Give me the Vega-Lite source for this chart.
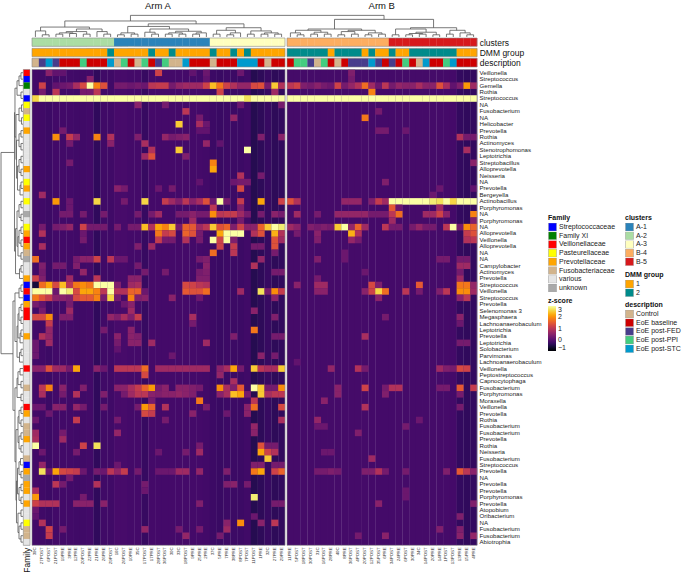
{"$schema":"https://vega.github.io/schema/vega-lite/v6.json","width":685,"height":572,"autosize":{"type":"fit","contains":"padding"},"padding":0,"background":"white","config":{"axis":{"disable":true},"view":{"stroke":null},"text":{"font":"Liberation Sans"},"legend":{"titleFont":"Liberation Sans","labelFont":"Liberation Sans","titleFontSize":7,"labelFontSize":7,"titleFontWeight":"bold","titleColor":"#111","labelColor":"#222","titlePadding":2,"padding":0}},
"datasets":{
"samples":[{"c":1,"id":"39C","cluster":"A-2","dmm":"1","description":"Control","base":-0.2},{"c":2,"id":"27POST","cluster":"A-2","dmm":"1","description":"EoE post-FED","base":-0.22},{"c":3,"id":"6POST","cluster":"A-2","dmm":"1","description":"EoE post-STC","base":-0.25},{"c":4,"id":"21POST","cluster":"A-2","dmm":"1","description":"EoE post-FED","base":-0.2},{"c":5,"id":"19PRE","cluster":"A-2","dmm":"1","description":"EoE baseline","base":-0.2},{"c":6,"id":"3PRE","cluster":"A-2","dmm":"1","description":"EoE baseline","base":-0.2},{"c":7,"id":"12PRE","cluster":"A-2","dmm":"1","description":"EoE baseline","base":-0.22},{"c":8,"id":"20POST","cluster":"A-2","dmm":"1","description":"EoE post-PPI","base":-0.22},{"c":9,"id":"22PRE","cluster":"A-2","dmm":"1","description":"EoE baseline","base":-0.2},{"c":10,"id":"21PRE","cluster":"A-2","dmm":"1","description":"EoE baseline","base":-0.36},{"c":11,"id":"26PRE","cluster":"A-2","dmm":"1","description":"EoE baseline","base":-0.22},{"c":12,"id":"29POST","cluster":"A-2","dmm":"2","description":"EoE post-STC","base":-0.22},{"c":13,"id":"16C","cluster":"A-1","dmm":"1","description":"Control","base":-0.15},{"c":14,"id":"26POST","cluster":"A-1","dmm":"1","description":"EoE post-PPI","base":-0.15},{"c":15,"id":"10PRE","cluster":"A-1","dmm":"1","description":"EoE baseline","base":-0.18},{"c":16,"id":"35C","cluster":"A-1","dmm":"1","description":"Control","base":-0.18},{"c":17,"id":"17POST","cluster":"A-1","dmm":"1","description":"EoE post-PPI","base":-0.3},{"c":18,"id":"17PRE","cluster":"A-1","dmm":"2","description":"EoE baseline","base":-0.18},{"c":19,"id":"28POST","cluster":"A-1","dmm":"1","description":"EoE post-FED","base":-0.18},{"c":20,"id":"36POST","cluster":"A-1","dmm":"1","description":"EoE post-PPI","base":-0.18},{"c":21,"id":"30C","cluster":"A-1","dmm":"2","description":"Control","base":-0.18},{"c":22,"id":"33C","cluster":"A-1","dmm":"1","description":"Control","base":-0.18},{"c":23,"id":"18POST","cluster":"A-1","dmm":"1","description":"EoE post-STC","base":-0.18},{"c":24,"id":"9PRE","cluster":"A-1","dmm":"1","description":"EoE baseline","base":-0.18},{"c":25,"id":"25PRE","cluster":"A-1","dmm":"1","description":"EoE baseline","base":-0.18},{"c":26,"id":"2PRE","cluster":"A-1","dmm":"1","description":"EoE baseline","base":-0.2},{"c":27,"id":"37C","cluster":"A-3","dmm":"2","description":"Control","base":-0.25},{"c":28,"id":"5PRE","cluster":"A-3","dmm":"1","description":"EoE baseline","base":-0.28},{"c":29,"id":"7PRE","cluster":"A-3","dmm":"1","description":"EoE baseline","base":-0.25},{"c":30,"id":"38PRE","cluster":"A-3","dmm":"2","description":"EoE baseline","base":-0.25},{"c":31,"id":"8POST","cluster":"A-3","dmm":"1","description":"EoE post-STC","base":-0.25},{"c":32,"id":"7POST","cluster":"A-3","dmm":"2","description":"EoE post-STC","base":-0.22},{"c":33,"id":"11POST","cluster":"A-3","dmm":"1","description":"EoE post-STC","base":-0.45},{"c":34,"id":"1PRE","cluster":"A-3","dmm":"1","description":"EoE baseline","base":-0.38},{"c":35,"id":"32C","cluster":"A-3","dmm":"1","description":"Control","base":-0.3},{"c":36,"id":"27PRE","cluster":"A-3","dmm":"1","description":"EoE baseline","base":-0.38},{"c":37,"id":"29PRE","cluster":"A-3","dmm":"1","description":"EoE baseline","base":-0.35},
{"c":39,"id":"11PRE","cluster":"B-4","dmm":"2","description":"EoE baseline","base":-0.17},{"c":40,"id":"5POST","cluster":"B-4","dmm":"2","description":"EoE post-PPI","base":-0.17},{"c":41,"id":"18POST","cluster":"B-4","dmm":"2","description":"EoE post-PPI","base":-0.17},{"c":42,"id":"30POST","cluster":"B-4","dmm":"2","description":"EoE post-FED","base":-0.17},{"c":43,"id":"31C","cluster":"B-4","dmm":"2","description":"Control","base":-0.17},{"c":44,"id":"16POST","cluster":"B-4","dmm":"2","description":"EoE post-PPI","base":-0.17},{"c":45,"id":"28PRE","cluster":"B-4","dmm":"1","description":"EoE baseline","base":-0.17},{"c":46,"id":"40C","cluster":"B-4","dmm":"2","description":"Control","base":-0.17},{"c":47,"id":"8PRE","cluster":"B-4","dmm":"2","description":"EoE baseline","base":-0.17},{"c":48,"id":"36POST","cluster":"B-4","dmm":"2","description":"EoE post-FED","base":-0.17},{"c":49,"id":"4POST","cluster":"B-4","dmm":"2","description":"EoE post-FED","base":-0.17},{"c":50,"id":"20POST","cluster":"B-4","dmm":"1","description":"EoE post-FED","base":-0.17},{"c":51,"id":"12POST","cluster":"B-4","dmm":"2","description":"EoE post-STC","base":-0.18},{"c":52,"id":"35POST","cluster":"B-4","dmm":"1","description":"EoE post-FED","base":-0.18},{"c":53,"id":"6PRE","cluster":"B-4","dmm":"1","description":"EoE baseline","base":-0.18},{"c":54,"id":"34POST","cluster":"B-5","dmm":"2","description":"EoE post-FED","base":-0.18},{"c":55,"id":"24PRE","cluster":"B-5","dmm":"1","description":"EoE baseline","base":-0.17},{"c":56,"id":"6POST","cluster":"B-5","dmm":"1","description":"EoE post-PPI","base":-0.17},{"c":57,"id":"30PRE","cluster":"B-5","dmm":"2","description":"EoE baseline","base":-0.17},{"c":58,"id":"34C","cluster":"B-5","dmm":"2","description":"Control","base":-0.17},{"c":59,"id":"14POST","cluster":"B-5","dmm":"2","description":"EoE post-STC","base":-0.17},{"c":60,"id":"20PRE","cluster":"B-5","dmm":"2","description":"EoE baseline","base":-0.17},{"c":61,"id":"14PRE","cluster":"B-5","dmm":"2","description":"EoE baseline","base":-0.17},{"c":62,"id":"1POST","cluster":"B-5","dmm":"2","description":"EoE post-PPI","base":-0.17},{"c":63,"id":"13POST","cluster":"B-5","dmm":"2","description":"EoE post-STC","base":-0.18},{"c":64,"id":"13PRE","cluster":"B-5","dmm":"1","description":"EoE baseline","base":-0.33},{"c":65,"id":"15PRE","cluster":"B-5","dmm":"1","description":"EoE baseline","base":-0.36},{"c":66,"id":"4PRE","cluster":"B-5","dmm":"1","description":"EoE baseline","base":-0.33}],
"rows":[{"r":1,"taxon":"Veillonella","family":"Veillonellaceae"},{"r":2,"taxon":"Streptococcus","family":"Streptococcaceae"},{"r":3,"taxon":"Gemella","family":"Family XI"},{"r":4,"taxon":"Rothia","family":"various"},{"r":5,"taxon":"Streptococcus","family":"Streptococcaceae"},{"r":6,"taxon":"NA","family":"Pasteurellaceae"},{"r":7,"taxon":"Fusobacterium","family":"Fusobacteriaceae"},{"r":8,"taxon":"NA","family":"Pasteurellaceae"},{"r":9,"taxon":"Helicobacter","family":"various"},{"r":10,"taxon":"Prevotella","family":"Prevotellaceae"},{"r":11,"taxon":"Rothia","family":"various"},{"r":12,"taxon":"Actinomyces","family":"various"},{"r":13,"taxon":"Stenotrophomonas","family":"various"},{"r":14,"taxon":"Leptotrichia","family":"various"},{"r":15,"taxon":"Streptobacillus","family":"various"},{"r":16,"taxon":"Alloprevotella","family":"Prevotellaceae"},{"r":17,"taxon":"Neisseria","family":"various"},{"r":18,"taxon":"NA","family":"Pasteurellaceae"},{"r":19,"taxon":"Prevotella","family":"Prevotellaceae"},{"r":20,"taxon":"Bergeyella","family":"various"},{"r":21,"taxon":"Actinobacillus","family":"Pasteurellaceae"},{"r":22,"taxon":"Porphyromonas","family":"various"},{"r":23,"taxon":"NA","family":"unknown"},{"r":24,"taxon":"Porphyromonas","family":"various"},{"r":25,"taxon":"NA","family":"Pasteurellaceae"},{"r":26,"taxon":"Alloprevotella","family":"Prevotellaceae"},{"r":27,"taxon":"Veillonella","family":"Veillonellaceae"},{"r":28,"taxon":"Alloprevotella","family":"Prevotellaceae"},{"r":29,"taxon":"NA","family":"Fusobacteriaceae"},{"r":30,"taxon":"NA","family":"unknown"},{"r":31,"taxon":"Campylobacter","family":"various"},{"r":32,"taxon":"Actinomyces","family":"various"},{"r":33,"taxon":"Prevotella","family":"Prevotellaceae"},{"r":34,"taxon":"Streptococcus","family":"Streptococcaceae"},{"r":35,"taxon":"Veillonella","family":"Veillonellaceae"},{"r":36,"taxon":"Streptococcus","family":"Streptococcaceae"},{"r":37,"taxon":"Prevotella","family":"Prevotellaceae"},{"r":38,"taxon":"Selenomonas 3","family":"Veillonellaceae"},{"r":39,"taxon":"Megasphaera","family":"Veillonellaceae"},{"r":40,"taxon":"Lachnoanaerobaculum","family":"various"},{"r":41,"taxon":"Leptotrichia","family":"various"},{"r":42,"taxon":"Prevotella","family":"Prevotellaceae"},{"r":43,"taxon":"Leptotrichia","family":"various"},{"r":44,"taxon":"Solobacterium","family":"various"},{"r":45,"taxon":"Parvimonas","family":"various"},{"r":46,"taxon":"Lachnoanaerobaculum","family":"various"},{"r":47,"taxon":"Veillonella","family":"Veillonellaceae"},{"r":48,"taxon":"Peptostreptococcus","family":"various"},{"r":49,"taxon":"Capnocytophaga","family":"various"},{"r":50,"taxon":"Fusobacterium","family":"Fusobacteriaceae"},{"r":51,"taxon":"Porphyromonas","family":"various"},{"r":52,"taxon":"Moraxella","family":"various"},{"r":53,"taxon":"Veillonella","family":"Veillonellaceae"},{"r":54,"taxon":"Prevotella","family":"Prevotellaceae"},{"r":55,"taxon":"Rothia","family":"various"},{"r":56,"taxon":"Fusobacterium","family":"Fusobacteriaceae"},{"r":57,"taxon":"Fusobacterium","family":"Fusobacteriaceae"},{"r":58,"taxon":"Prevotella","family":"Prevotellaceae"},{"r":59,"taxon":"Rothia","family":"various"},{"r":60,"taxon":"Neisseria","family":"various"},{"r":61,"taxon":"Fusobacterium","family":"Fusobacteriaceae"},{"r":62,"taxon":"Streptococcus","family":"Streptococcaceae"},{"r":63,"taxon":"Prevotella","family":"Prevotellaceae"},{"r":64,"taxon":"NA","family":"unknown"},{"r":65,"taxon":"Prevotella","family":"Prevotellaceae"},{"r":66,"taxon":"Prevotella","family":"Prevotellaceae"},{"r":67,"taxon":"Porphyromonas","family":"various"},{"r":68,"taxon":"Prevotella","family":"Prevotellaceae"},{"r":69,"taxon":"Atopobium","family":"various"},{"r":70,"taxon":"Oribacterium","family":"various"},{"r":71,"taxon":"NA","family":"Pasteurellaceae"},{"r":72,"taxon":"Fusobacterium","family":"Fusobacteriaceae"},{"r":73,"taxon":"Fusobacterium","family":"Fusobacteriaceae"},{"r":74,"taxon":"Abiotrophia","family":"various"}],
"treeTop":[{"a":1.5,"b":2.5,"h":-5.4,"p":-5.06,"q":-5.06},{"a":0.5,"b":2,"h":-6,"p":-5.06,"q":-5.4},{"a":3.5,"b":4.5,"h":-5.5,"p":-5.06,"q":-5.06},{"a":5.5,"b":6.5,"h":-5.6,"p":-5.06,"q":-5.06},{"a":4,"b":6,"h":-5.7,"p":-5.5,"q":-5.6},{"a":7.5,"b":8.5,"h":-5.5,"p":-5.06,"q":-5.06},{"a":5,"b":8,"h":-5.9,"p":-5.7,"q":-5.5},{"a":10.5,"b":11.5,"h":-5.5,"p":-5.06,"q":-5.06},{"a":9.5,"b":11,"h":-5.9,"p":-5.06,"q":-5.5},{"a":6.5,"b":10.25,"h":-6.3,"p":-5.9,"q":-5.9},{"a":1.25,"b":8.4,"h":-6.6,"p":-6,"q":-6.3},{"a":12.5,"b":13.5,"h":-5.4,"p":-5.06,"q":-5.06},{"a":14.5,"b":15.5,"h":-5.5,"p":-5.06,"q":-5.06},{"a":13,"b":15,"h":-5.7,"p":-5.4,"q":-5.5},{"a":17.5,"b":18.5,"h":-5.5,"p":-5.06,"q":-5.06},{"a":16.5,"b":18,"h":-5.8,"p":-5.06,"q":-5.5},{"a":19.5,"b":20.5,"h":-5.5,"p":-5.06,"q":-5.06},{"a":21.5,"b":22.5,"h":-5.5,"p":-5.06,"q":-5.06},{"a":20,"b":22,"h":-5.7,"p":-5.5,"q":-5.5},{"a":23.5,"b":24.5,"h":-5.5,"p":-5.06,"q":-5.06},{"a":24,"b":25.5,"h":-5.7,"p":-5.5,"q":-5.06},{"a":21,"b":24.75,"h":-5.95,"p":-5.7,"q":-5.7},{"a":17.25,"b":22.9,"h":-6.3,"p":-5.8,"q":-5.95},{"a":14,"b":20.1,"h":-6.7,"p":-5.7,"q":-6.3},{"a":26.5,"b":27.5,"h":-5.5,"p":-5.06,"q":-5.06},{"a":28.5,"b":29.5,"h":-5.4,"p":-5.06,"q":-5.06},{"a":29,"b":30.5,"h":-5.7,"p":-5.4,"q":-5.06},{"a":27,"b":29.75,"h":-6.1,"p":-5.5,"q":-5.7},{"a":31.5,"b":32.5,"h":-5.5,"p":-5.06,"q":-5.06},{"a":33.5,"b":34.5,"h":-5.5,"p":-5.06,"q":-5.06},{"a":35.5,"b":36.5,"h":-5.5,"p":-5.06,"q":-5.06},{"a":34,"b":36,"h":-5.7,"p":-5.5,"q":-5.5},{"a":32,"b":35,"h":-6,"p":-5.5,"q":-5.7},{"a":28.4,"b":33.5,"h":-6.5,"p":-6.1,"q":-6},{"a":17,"b":31,"h":-7.1,"p":-6.7,"q":-6.5},{"a":4.8,"b":24,"h":-7.55,"p":-6.6,"q":-7.1},{"a":39.5,"b":40.5,"h":-5.4,"p":-5.06,"q":-5.06},{"a":38.5,"b":40,"h":-5.7,"p":-5.06,"q":-5.4},{"a":41.5,"b":42.5,"h":-5.5,"p":-5.06,"q":-5.06},{"a":43.5,"b":44.5,"h":-5.5,"p":-5.06,"q":-5.06},{"a":42,"b":44,"h":-5.8,"p":-5.5,"q":-5.5},{"a":39.25,"b":43,"h":-6.1,"p":-5.7,"q":-5.8},{"a":45.5,"b":46.5,"h":-5.4,"p":-5.06,"q":-5.06},{"a":47.5,"b":48.5,"h":-5.5,"p":-5.06,"q":-5.06},{"a":46,"b":48,"h":-5.9,"p":-5.4,"q":-5.5},{"a":49.5,"b":50.5,"h":-5.4,"p":-5.06,"q":-5.06},{"a":51.5,"b":52.5,"h":-5.5,"p":-5.06,"q":-5.06},{"a":50,"b":52,"h":-5.7,"p":-5.4,"q":-5.5},{"a":47,"b":51,"h":-6.1,"p":-5.9,"q":-5.7},{"a":41.1,"b":49,"h":-6.3,"p":-6.1,"q":-6.1},{"a":53.5,"b":54.5,"h":-5.4,"p":-5.06,"q":-5.06},{"a":55.5,"b":56.5,"h":-5.4,"p":-5.06,"q":-5.06},{"a":57.5,"b":58.5,"h":-5.5,"p":-5.06,"q":-5.06},{"a":56,"b":58,"h":-5.6,"p":-5.4,"q":-5.5},{"a":59.5,"b":60.5,"h":-5.4,"p":-5.06,"q":-5.06},{"a":57,"b":60,"h":-5.8,"p":-5.6,"q":-5.4},{"a":54,"b":58.5,"h":-6.3,"p":-5.4,"q":-5.8},{"a":64.5,"b":65.5,"h":-5.4,"p":-5.06,"q":-5.06},{"a":63.5,"b":65,"h":-5.7,"p":-5.06,"q":-5.4},{"a":61.5,"b":62.5,"h":-5.5,"p":-5.06,"q":-5.06},{"a":62,"b":64.25,"h":-6.1,"p":-5.5,"q":-5.7},{"a":56.2,"b":63,"h":-6.5,"p":-6.3,"q":-6.1},{"a":45,"b":59.6,"h":-7.8,"p":-6.3,"q":-6.5},{"a":14.4,"b":52.3,"h":-8.42,"p":-7.55,"q":-7.8}],
"treeLeft":[{"a":0.5,"b":1.5,"h":-1.61,"p":-1.32,"q":-1.32},{"a":1,"b":2.5,"h":-1.9,"p":-1.61,"q":-1.32},{"a":3.5,"b":4.5,"h":-1.61,"p":-1.32,"q":-1.32},{"a":1.75,"b":4,"h":-2.19,"p":-1.9,"q":-1.61},{"a":5.5,"b":6.5,"h":-1.54,"p":-1.32,"q":-1.32},{"a":7.5,"b":8.5,"h":-1.54,"p":-1.32,"q":-1.32},{"a":6,"b":8,"h":-1.9,"p":-1.54,"q":-1.54},{"a":9.5,"b":10.5,"h":-1.61,"p":-1.32,"q":-1.32},{"a":11.5,"b":12.5,"h":-1.61,"p":-1.32,"q":-1.32},{"a":10,"b":12,"h":-1.9,"p":-1.61,"q":-1.61},{"a":13.5,"b":14.5,"h":-1.61,"p":-1.32,"q":-1.32},{"a":15.5,"b":16.5,"h":-1.61,"p":-1.32,"q":-1.32},{"a":14,"b":16,"h":-1.9,"p":-1.61,"q":-1.61},{"a":17.5,"b":18.5,"h":-1.61,"p":-1.32,"q":-1.32},{"a":18,"b":19.5,"h":-1.75,"p":-1.61,"q":-1.32},{"a":15,"b":18.75,"h":-2.12,"p":-1.9,"q":-1.75},{"a":11,"b":16.9,"h":-2.27,"p":-1.9,"q":-2.12},{"a":7,"b":14,"h":-2.34,"p":-1.9,"q":-2.27},{"a":2.9,"b":10.5,"h":-2.49,"p":-2.19,"q":-2.34},{"a":20.5,"b":21.5,"h":-1.61,"p":-1.32,"q":-1.32},{"a":22.5,"b":23.5,"h":-1.61,"p":-1.32,"q":-1.32},{"a":21,"b":23,"h":-1.9,"p":-1.61,"q":-1.61},{"a":24.5,"b":25.5,"h":-1.61,"p":-1.32,"q":-1.32},{"a":26.5,"b":27.5,"h":-1.61,"p":-1.32,"q":-1.32},{"a":25,"b":27,"h":-1.9,"p":-1.61,"q":-1.61},{"a":28.5,"b":29.5,"h":-1.61,"p":-1.32,"q":-1.32},{"a":26,"b":29,"h":-2.05,"p":-1.9,"q":-1.61},{"a":22,"b":27.5,"h":-2.19,"p":-1.9,"q":-2.05},{"a":30.5,"b":31.5,"h":-1.61,"p":-1.32,"q":-1.32},{"a":31,"b":32.5,"h":-1.83,"p":-1.61,"q":-1.32},{"a":24.75,"b":31.75,"h":-2.41,"p":-2.19,"q":-1.83},{"a":6.7,"b":28.25,"h":-2.56,"p":-2.49,"q":-2.41},{"a":33.5,"b":34.5,"h":-1.61,"p":-1.32,"q":-1.32},{"a":34,"b":35.5,"h":-1.9,"p":-1.61,"q":-1.32},{"a":36.5,"b":37.5,"h":-1.61,"p":-1.32,"q":-1.32},{"a":38.5,"b":39.5,"h":-1.61,"p":-1.32,"q":-1.32},{"a":37,"b":39,"h":-1.9,"p":-1.61,"q":-1.61},{"a":40.5,"b":41.5,"h":-1.61,"p":-1.32,"q":-1.32},{"a":41,"b":42.5,"h":-1.75,"p":-1.61,"q":-1.32},{"a":38,"b":41.75,"h":-2.05,"p":-1.9,"q":-1.75},{"a":43.5,"b":44.5,"h":-1.61,"p":-1.32,"q":-1.32},{"a":44,"b":45.5,"h":-1.83,"p":-1.61,"q":-1.32},{"a":39.9,"b":44.75,"h":-2.19,"p":-2.05,"q":-1.83},{"a":34.75,"b":42.3,"h":-2.49,"p":-1.9,"q":-2.19},{"a":46.5,"b":47.5,"h":-1.75,"p":-1.32,"q":-1.32},{"a":48.5,"b":49.5,"h":-1.61,"p":-1.32,"q":-1.32},{"a":47,"b":49,"h":-2.05,"p":-1.75,"q":-1.61},{"a":50.5,"b":51.5,"h":-1.61,"p":-1.32,"q":-1.32},{"a":48,"b":51,"h":-2.19,"p":-2.05,"q":-1.61},{"a":52.5,"b":53.5,"h":-1.61,"p":-1.32,"q":-1.32},{"a":54.5,"b":55.5,"h":-1.61,"p":-1.32,"q":-1.32},{"a":53,"b":55,"h":-1.9,"p":-1.61,"q":-1.61},{"a":56.5,"b":57.5,"h":-1.61,"p":-1.32,"q":-1.32},{"a":58.5,"b":59.5,"h":-1.61,"p":-1.32,"q":-1.32},{"a":57,"b":59,"h":-1.9,"p":-1.61,"q":-1.61},{"a":54,"b":58,"h":-2.05,"p":-1.9,"q":-1.9},{"a":60.5,"b":61.5,"h":-1.68,"p":-1.32,"q":-1.32},{"a":62.5,"b":63.5,"h":-1.61,"p":-1.32,"q":-1.32},{"a":61,"b":63,"h":-1.9,"p":-1.68,"q":-1.61},{"a":64.5,"b":65.5,"h":-1.61,"p":-1.32,"q":-1.32},{"a":66.5,"b":67.5,"h":-1.61,"p":-1.32,"q":-1.32},{"a":65,"b":67,"h":-1.9,"p":-1.61,"q":-1.61},{"a":62,"b":66,"h":-2.12,"p":-1.9,"q":-1.9},{"a":68.5,"b":69.5,"h":-1.61,"p":-1.32,"q":-1.32},{"a":70.5,"b":71.5,"h":-1.61,"p":-1.32,"q":-1.32},{"a":72.5,"b":73.5,"h":-1.61,"p":-1.32,"q":-1.32},{"a":71,"b":73,"h":-1.9,"p":-1.61,"q":-1.61},{"a":69,"b":72,"h":-2.05,"p":-1.61,"q":-1.9},{"a":64,"b":70.5,"h":-2.27,"p":-2.12,"q":-2.05},{"a":56,"b":67,"h":-2.34,"p":-2.05,"q":-2.27},{"a":49.5,"b":61,"h":-2.49,"p":-2.19,"q":-2.34},{"a":36,"b":53,"h":-2.78,"p":-2.49,"q":-2.49},{"a":12.9,"b":44.2,"h":-4.53,"p":-2.56,"q":-2.78}],
"cells":[
{"c":3,"r":1,"z":0.5},{"c":4,"r":1,"z":0.1},{"c":5,"r":1,"z":0.1},{"c":19,"r":1,"z":1.2},{"c":24,"r":1,"z":0.1},{"c":26,"r":1,"z":0.2},{"c":31,"r":1,"z":0.2},{"c":48,"r":1,"z":0.4},{"c":9,"r":2,"z":0.5},{"c":26,"r":2,"z":0.1},{"c":48,"r":2,"z":0.3},
{"c":2,"r":3,"z":1.2},{"c":4,"r":3,"z":0.1},{"c":5,"r":3,"z":0.2},{"c":6,"r":3,"z":0.3},{"c":7,"r":3,"z":0.8},{"c":8,"r":3,"z":1.3},{"c":9,"r":3,"z":3},{"c":10,"r":3,"z":1.9},{"c":11,"r":3,"z":1.4},{"c":13,"r":3,"z":0.3},{"c":14,"r":3,"z":0.3},{"c":15,"r":3,"z":0.2},{"c":16,"r":3,"z":0.3},{"c":17,"r":3,"z":0.2},{"c":18,"r":3,"z":1},{"c":19,"r":3,"z":1.1},{"c":20,"r":3,"z":1.1},{"c":21,"r":3,"z":0.3},{"c":22,"r":3,"z":0.6},{"c":23,"r":3,"z":0.7},{"c":24,"r":3,"z":0.7},{"c":25,"r":3,"z":0.7},{"c":26,"r":3,"z":1.2},{"c":27,"r":3,"z":2.4},{"c":28,"r":3,"z":1.8},{"c":29,"r":3,"z":1.2},{"c":30,"r":3,"z":0.9},{"c":31,"r":3,"z":0.6},{"c":32,"r":3,"z":0.6},{"c":33,"r":3,"z":1.3},{"c":34,"r":3,"z":1.4},{"c":35,"r":3,"z":0.3},{"c":36,"r":3,"z":2.5},{"c":37,"r":3,"z":0.9},
{"c":39,"r":3,"z":1},{"c":40,"r":3,"z":1.2},{"c":41,"r":3,"z":0.4},{"c":42,"r":3,"z":0.3},{"c":43,"r":3,"z":0.5},{"c":44,"r":3,"z":0.3},{"c":45,"r":3,"z":0.2},{"c":46,"r":3,"z":1.2},{"c":47,"r":3,"z":0.3},{"c":48,"r":3,"z":0.6},{"c":49,"r":3,"z":0.9},{"c":50,"r":3,"z":1.7},{"c":51,"r":3,"z":0.7},{"c":52,"r":3,"z":0.2},{"c":53,"r":3,"z":1},{"c":54,"r":3,"z":0.3},{"c":55,"r":3,"z":0.6},{"c":56,"r":3,"z":0.5},{"c":57,"r":3,"z":0.5},{"c":58,"r":3,"z":0.8},{"c":59,"r":3,"z":0.5},{"c":60,"r":3,"z":0.5},{"c":61,"r":3,"z":1.4},{"c":62,"r":3,"z":0.8},{"c":63,"r":3,"z":0.1},{"c":64,"r":3,"z":0.4},{"c":65,"r":3,"z":2.1},{"c":66,"r":3,"z":0.7},
{"c":2,"r":4,"z":0.3},{"c":4,"r":4,"z":1},{"c":8,"r":4,"z":0.3},{"c":9,"r":4,"z":0.3},{"c":10,"r":4,"z":1},{"c":28,"r":4,"z":1.2},{"c":36,"r":4,"z":0.7},{"c":51,"r":4,"z":1.9},
{"c":1,"r":5,"z":2.6},{"c":2,"r":5,"z":3},{"c":3,"r":5,"z":3},{"c":4,"r":5,"z":3},{"c":5,"r":5,"z":3},{"c":6,"r":5,"z":3},{"c":7,"r":5,"z":3},{"c":8,"r":5,"z":3},{"c":9,"r":5,"z":3},{"c":10,"r":5,"z":3},{"c":11,"r":5,"z":3},{"c":12,"r":5,"z":3},{"c":13,"r":5,"z":3},{"c":14,"r":5,"z":3},{"c":15,"r":5,"z":3},{"c":16,"r":5,"z":3},{"c":17,"r":5,"z":3},{"c":18,"r":5,"z":3},{"c":19,"r":5,"z":3},{"c":20,"r":5,"z":3},{"c":21,"r":5,"z":3},{"c":22,"r":5,"z":3},{"c":23,"r":5,"z":3},{"c":24,"r":5,"z":3},{"c":25,"r":5,"z":3},{"c":26,"r":5,"z":3},{"c":27,"r":5,"z":3},{"c":28,"r":5,"z":3},{"c":29,"r":5,"z":3},{"c":30,"r":5,"z":3},{"c":31,"r":5,"z":3},{"c":32,"r":5,"z":2.7},{"c":33,"r":5,"z":3},{"c":34,"r":5,"z":3},{"c":35,"r":5,"z":3},{"c":36,"r":5,"z":3},{"c":37,"r":5,"z":3},{"c":39,"r":5,"z":3},{"c":40,"r":5,"z":3},{"c":41,"r":5,"z":3},{"c":42,"r":5,"z":3},{"c":43,"r":5,"z":3},{"c":44,"r":5,"z":3},{"c":45,"r":5,"z":3},{"c":46,"r":5,"z":3},{"c":47,"r":5,"z":3},{"c":48,"r":5,"z":3},{"c":49,"r":5,"z":3},{"c":50,"r":5,"z":3},{"c":51,"r":5,"z":3},{"c":52,"r":5,"z":3},{"c":53,"r":5,"z":3},{"c":54,"r":5,"z":3},{"c":55,"r":5,"z":3},{"c":56,"r":5,"z":3},{"c":57,"r":5,"z":3},{"c":58,"r":5,"z":3},{"c":59,"r":5,"z":3},{"c":60,"r":5,"z":3},{"c":61,"r":5,"z":3},{"c":62,"r":5,"z":3},{"c":63,"r":5,"z":3},{"c":64,"r":5,"z":3},{"c":65,"r":5,"z":3},{"c":66,"r":5,"z":3},
{"c":16,"r":6,"z":0.5},{"c":20,"r":6,"z":0.3},{"c":31,"r":6,"z":0.2},{"c":37,"r":6,"z":0.3},{"c":23,"r":7,"z":1},{"c":52,"r":7,"z":0.3},{"c":25,"r":8,"z":0.3},{"c":30,"r":8,"z":0.6},{"c":50,"r":8,"z":1.8},{"c":22,"r":9,"z":2.5},{"c":25,"r":9,"z":0.8},{"c":26,"r":9,"z":0.2},{"c":5,"r":10,"z":0.3},{"c":25,"r":10,"z":0.1},{"c":26,"r":10,"z":0.1},{"c":52,"r":10,"z":0.3},{"c":53,"r":10,"z":0.3},{"c":56,"r":10,"z":0.2},
{"c":4,"r":11,"z":2},{"c":6,"r":11,"z":1.1},{"c":7,"r":11,"z":0.6},{"c":10,"r":11,"z":1.9},{"c":12,"r":11,"z":0.9},{"c":16,"r":11,"z":0.4},{"c":20,"r":11,"z":0.6},{"c":21,"r":11,"z":0.3},{"c":22,"r":11,"z":0.4},{"c":23,"r":11,"z":0.5},{"c":34,"r":11,"z":0.4},{"c":37,"r":11,"z":0.5},{"c":64,"r":11,"z":0.9},{"c":65,"r":11,"z":0.3},{"c":66,"r":11,"z":0.3},
{"c":6,"r":12,"z":0.3},{"c":12,"r":12,"z":0.5},{"c":17,"r":12,"z":0.8},{"c":26,"r":12,"z":0.6},{"c":28,"r":12,"z":0.1},{"c":18,"r":13,"z":0.9},{"c":22,"r":13,"z":2.5},{"c":32,"r":13,"z":3},{"c":65,"r":13,"z":0.8},{"c":17,"r":14,"z":0.7},{"c":18,"r":14,"z":1.4},{"c":23,"r":14,"z":0.4},{"c":6,"r":15,"z":0.3},{"c":27,"r":15,"z":1.9},{"c":66,"r":15,"z":0.5},{"c":27,"r":16,"z":2.2},{"c":31,"r":17,"z":0.9},{"c":34,"r":17,"z":0.3},{"c":25,"r":18,"z":0.1},{"c":30,"r":18,"z":0.2},{"c":31,"r":18,"z":0.3},{"c":32,"r":18,"z":0.3},{"c":53,"r":18,"z":0.4},
{"c":13,"r":19,"z":0.5},{"c":14,"r":19,"z":0.3},{"c":19,"r":19,"z":0.2},{"c":21,"r":19,"z":0.3},{"c":31,"r":19,"z":1.3},{"c":61,"r":19,"z":0.2},{"c":66,"r":19,"z":0.1},{"c":2,"r":20,"z":0.7},{"c":60,"r":20,"z":0.2},
{"c":4,"r":21,"z":2.1},{"c":6,"r":21,"z":0.2},{"c":10,"r":21,"z":2.6},{"c":14,"r":21,"z":0.3},{"c":17,"r":21,"z":2.6},{"c":20,"r":21,"z":1.1},{"c":21,"r":21,"z":0.7},{"c":22,"r":21,"z":0.4},{"c":23,"r":21,"z":1},{"c":24,"r":21,"z":0.5},{"c":25,"r":21,"z":0.8},{"c":26,"r":21,"z":1.4},{"c":27,"r":21,"z":0.2},{"c":28,"r":21,"z":3},{"c":29,"r":21,"z":0.3},{"c":31,"r":21,"z":1.1},{"c":34,"r":21,"z":2.2},{"c":37,"r":21,"z":1.2},{"c":39,"r":21,"z":1.4},{"c":40,"r":21,"z":0.9},{"c":47,"r":21,"z":0.6},{"c":48,"r":21,"z":0.6},{"c":49,"r":21,"z":0.6},{"c":51,"r":21,"z":0.4},{"c":52,"r":21,"z":1.1},{"c":53,"r":21,"z":0.7},{"c":54,"r":21,"z":3},{"c":55,"r":21,"z":3},{"c":56,"r":21,"z":3},{"c":57,"r":21,"z":3},{"c":58,"r":21,"z":3},{"c":59,"r":21,"z":3},{"c":60,"r":21,"z":2.8},{"c":61,"r":21,"z":2.7},{"c":62,"r":21,"z":3},{"c":63,"r":21,"z":2.6},{"c":64,"r":21,"z":3},{"c":65,"r":21,"z":3},{"c":66,"r":21,"z":3},
{"c":6,"r":22,"z":0.2},{"c":27,"r":22,"z":1},{"c":31,"r":22,"z":0.4},{"c":54,"r":22,"z":1.5},{"c":55,"r":22,"z":0.2},{"c":61,"r":22,"z":0.7},
{"c":5,"r":23,"z":0.3},{"c":6,"r":23,"z":0.3},{"c":8,"r":23,"z":0.3},{"c":11,"r":23,"z":0.3},{"c":16,"r":23,"z":0.3},{"c":18,"r":23,"z":0.3},{"c":19,"r":23,"z":0.7},{"c":22,"r":23,"z":0.3},{"c":23,"r":23,"z":0.3},{"c":24,"r":23,"z":0.5},{"c":25,"r":23,"z":0.3},{"c":26,"r":23,"z":0.3},{"c":27,"r":23,"z":2},{"c":28,"r":23,"z":1},{"c":29,"r":23,"z":1.1},{"c":30,"r":23,"z":1.1},{"c":31,"r":23,"z":0.7},{"c":32,"r":23,"z":0.3},{"c":34,"r":23,"z":0.3},{"c":36,"r":23,"z":0.5},{"c":37,"r":23,"z":0.3},{"c":40,"r":23,"z":0.7},{"c":43,"r":23,"z":0.3},{"c":46,"r":23,"z":0.6},{"c":47,"r":23,"z":0.6},{"c":48,"r":23,"z":0.6},{"c":49,"r":23,"z":0.6},{"c":50,"r":23,"z":0.6},{"c":51,"r":23,"z":0.3},{"c":52,"r":23,"z":0.3},{"c":53,"r":23,"z":0.3},{"c":54,"r":23,"z":1},{"c":55,"r":23,"z":1.7},{"c":59,"r":23,"z":0.7},{"c":60,"r":23,"z":0.7},{"c":61,"r":23,"z":1.2},{"c":62,"r":23,"z":0.5},{"c":66,"r":23,"z":1.9},
{"c":24,"r":24,"z":0.7},{"c":31,"r":24,"z":0.3},{"c":54,"r":24,"z":0.7},{"c":66,"r":24,"z":0.4},
{"c":2,"r":25,"z":0.3},{"c":4,"r":25,"z":0.3},{"c":5,"r":25,"z":0.4},{"c":6,"r":25,"z":0.6},{"c":8,"r":25,"z":1.2},{"c":9,"r":25,"z":0.3},{"c":10,"r":25,"z":0.3},{"c":11,"r":25,"z":0.3},{"c":13,"r":25,"z":0.3},{"c":15,"r":25,"z":0.3},{"c":16,"r":25,"z":0.3},{"c":17,"r":25,"z":2.4},{"c":18,"r":25,"z":0.9},{"c":19,"r":25,"z":2.2},{"c":20,"r":25,"z":1.9},{"c":21,"r":25,"z":2.5},{"c":22,"r":25,"z":0.3},{"c":23,"r":25,"z":1.6},{"c":24,"r":25,"z":1.5},{"c":25,"r":25,"z":0.7},{"c":26,"r":25,"z":1},{"c":27,"r":25,"z":2.5},{"c":28,"r":25,"z":1.4},{"c":29,"r":25,"z":1.6},{"c":30,"r":25,"z":0.4},{"c":31,"r":25,"z":1.2},{"c":32,"r":25,"z":0.5},{"c":33,"r":25,"z":0.5},{"c":34,"r":25,"z":1.6},{"c":35,"r":25,"z":2.5},{"c":36,"r":25,"z":3},{"c":37,"r":25,"z":2.8},{"c":39,"r":25,"z":0.7},{"c":40,"r":25,"z":0.5},{"c":42,"r":25,"z":0.4},{"c":43,"r":25,"z":0.3},{"c":44,"r":25,"z":0.4},{"c":45,"r":25,"z":0.3},{"c":46,"r":25,"z":2.5},{"c":47,"r":25,"z":3},{"c":48,"r":25,"z":0.6},{"c":49,"r":25,"z":1.6},{"c":50,"r":25,"z":0.7},{"c":53,"r":25,"z":1},{"c":54,"r":25,"z":0.3},{"c":55,"r":25,"z":0.3},{"c":57,"r":25,"z":0.3},{"c":58,"r":25,"z":0.6},{"c":59,"r":25,"z":0.3},{"c":60,"r":25,"z":0.3},{"c":62,"r":25,"z":1},{"c":63,"r":25,"z":3},{"c":64,"r":25,"z":0.3},{"c":65,"r":25,"z":2},{"c":66,"r":25,"z":1.6},
{"c":2,"r":26,"z":0.9},{"c":8,"r":26,"z":0.2},{"c":19,"r":26,"z":1.8},{"c":20,"r":26,"z":1.1},{"c":21,"r":26,"z":1.3},{"c":23,"r":26,"z":1.6},{"c":24,"r":26,"z":1.4},{"c":25,"r":26,"z":0.3},{"c":28,"r":26,"z":2.2},{"c":29,"r":26,"z":3},{"c":30,"r":26,"z":3},{"c":31,"r":26,"z":3},{"c":33,"r":26,"z":0.9},{"c":34,"r":26,"z":1.4},{"c":36,"r":26,"z":2.3},{"c":37,"r":26,"z":0.9},{"c":40,"r":26,"z":0.3},{"c":43,"r":26,"z":0.5},{"c":48,"r":26,"z":2.3},{"c":49,"r":26,"z":0.9},{"c":65,"r":26,"z":1.1},{"c":66,"r":26,"z":1.4},
{"c":8,"r":27,"z":0.3},{"c":19,"r":27,"z":1.1},{"c":20,"r":27,"z":0.3},{"c":21,"r":27,"z":0.3},{"c":23,"r":27,"z":0.9},{"c":25,"r":27,"z":0.3},{"c":27,"r":27,"z":3},{"c":28,"r":27,"z":1.2},{"c":29,"r":27,"z":3},{"c":30,"r":27,"z":0.4},{"c":36,"r":27,"z":1.4},{"c":37,"r":27,"z":0.7},{"c":43,"r":27,"z":0.4},{"c":48,"r":27,"z":0.6},{"c":49,"r":27,"z":0.3},{"c":65,"r":27,"z":0.9},{"c":66,"r":27,"z":1},
{"c":2,"r":28,"z":0.8},{"c":16,"r":28,"z":0.4},{"c":18,"r":28,"z":0.7},{"c":28,"r":28,"z":1.2},{"c":30,"r":28,"z":1.1},{"c":33,"r":28,"z":0.3},{"c":34,"r":28,"z":0.3},{"c":36,"r":28,"z":1.4},{"c":27,"r":29,"z":1.7},{"c":30,"r":29,"z":1},{"c":36,"r":29,"z":0.3},{"c":47,"r":29,"z":0.2},
{"c":1,"r":30,"z":1.7},{"c":7,"r":30,"z":0.3},{"c":8,"r":30,"z":0.5},{"c":9,"r":30,"z":0.5},{"c":10,"r":30,"z":1.2},{"c":12,"r":30,"z":1},{"c":13,"r":30,"z":0.2},{"c":14,"r":30,"z":0.2},{"c":25,"r":30,"z":0.3},{"c":26,"r":30,"z":0.4},{"c":34,"r":30,"z":0.6},{"c":43,"r":30,"z":0.4},{"c":47,"r":30,"z":0.2},{"c":61,"r":30,"z":0.3},{"c":62,"r":30,"z":0.3},{"c":64,"r":30,"z":0.3},{"c":65,"r":30,"z":0.3},
{"c":2,"r":31,"z":0.4},{"c":4,"r":31,"z":0.3},{"c":5,"r":31,"z":0.3},{"c":7,"r":31,"z":0.4},{"c":16,"r":31,"z":0.3},{"c":26,"r":31,"z":0.5},{"c":33,"r":31,"z":0.9},{"c":64,"r":31,"z":0.7},{"c":65,"r":31,"z":0.7},{"c":2,"r":32,"z":0.3},{"c":8,"r":32,"z":0.6},{"c":17,"r":32,"z":0.3},{"c":20,"r":32,"z":0.3},{"c":25,"r":32,"z":0.3},{"c":26,"r":32,"z":0.4},{"c":36,"r":32,"z":0.3},{"c":37,"r":32,"z":0.3},{"c":50,"r":32,"z":0.2},{"c":64,"r":32,"z":0.3},
{"c":1,"r":33,"z":1.2},{"c":2,"r":33,"z":0.4},{"c":6,"r":33,"z":0.7},{"c":10,"r":33,"z":1},{"c":15,"r":33,"z":0.5},{"c":16,"r":33,"z":0.5},{"c":25,"r":33,"z":0.4},{"c":26,"r":33,"z":0.4},{"c":43,"r":33,"z":0.3},{"c":64,"r":33,"z":0.7},
{"c":1,"r":34,"z":-0.6},{"c":2,"r":34,"z":1.7},{"c":3,"r":34,"z":2.2},{"c":4,"r":34,"z":1.3},{"c":5,"r":34,"z":2.4},{"c":6,"r":34,"z":1},{"c":7,"r":34,"z":1.8},{"c":8,"r":34,"z":2},{"c":9,"r":34,"z":1.8},{"c":10,"r":34,"z":3},{"c":11,"r":34,"z":3},{"c":12,"r":34,"z":3},{"c":13,"r":34,"z":0.4},{"c":15,"r":34,"z":0.7},{"c":16,"r":34,"z":0.8},{"c":23,"r":34,"z":1.3},{"c":24,"r":34,"z":1.2},{"c":25,"r":34,"z":1},{"c":26,"r":34,"z":0.9},{"c":40,"r":34,"z":0.5},{"c":43,"r":34,"z":0.7},{"c":44,"r":34,"z":0.7},{"c":51,"r":34,"z":1.3},{"c":52,"r":34,"z":0.4},{"c":58,"r":34,"z":1.5},{"c":64,"r":34,"z":1.8},{"c":65,"r":34,"z":1.8},{"c":66,"r":34,"z":0.6},
{"c":1,"r":35,"z":3},{"c":2,"r":35,"z":3},{"c":3,"r":35,"z":3},{"c":4,"r":35,"z":0.2},{"c":5,"r":35,"z":3},{"c":6,"r":35,"z":2.8},{"c":7,"r":35,"z":1.3},{"c":8,"r":35,"z":2.2},{"c":9,"r":35,"z":2.2},{"c":10,"r":35,"z":1.9},{"c":11,"r":35,"z":1},{"c":12,"r":35,"z":3},{"c":13,"r":35,"z":0.9},{"c":14,"r":35,"z":0.9},{"c":15,"r":35,"z":1.6},{"c":16,"r":35,"z":1.6},{"c":17,"r":35,"z":0.2},{"c":23,"r":35,"z":1.5},{"c":24,"r":35,"z":1.4},{"c":25,"r":35,"z":1.4},{"c":26,"r":35,"z":1.7},{"c":31,"r":35,"z":0.7},{"c":34,"r":35,"z":2.7},{"c":35,"r":35,"z":0.3},{"c":36,"r":35,"z":2},{"c":37,"r":35,"z":1.1},{"c":43,"r":35,"z":0.5},{"c":44,"r":35,"z":0.5},{"c":50,"r":35,"z":0.5},{"c":51,"r":35,"z":1.2},{"c":52,"r":35,"z":2.6},{"c":53,"r":35,"z":1.7},{"c":56,"r":35,"z":1},{"c":58,"r":35,"z":0.3},{"c":61,"r":35,"z":0.4},{"c":62,"r":35,"z":1},{"c":64,"r":35,"z":2},{"c":65,"r":35,"z":2},{"c":66,"r":35,"z":0.7},
{"c":1,"r":36,"z":1.8},{"c":2,"r":36,"z":1.4},{"c":3,"r":36,"z":1.1},{"c":4,"r":36,"z":0.5},{"c":5,"r":36,"z":0.5},{"c":6,"r":36,"z":0.4},{"c":7,"r":36,"z":1.3},{"c":8,"r":36,"z":1.5},{"c":9,"r":36,"z":1.5},{"c":10,"r":36,"z":1.9},{"c":11,"r":36,"z":0.3},{"c":12,"r":36,"z":2.6},{"c":13,"r":36,"z":0.3},{"c":15,"r":36,"z":1.9},{"c":16,"r":36,"z":0.4},{"c":17,"r":36,"z":0.5},{"c":21,"r":36,"z":0.5},{"c":25,"r":36,"z":0.2},{"c":36,"r":36,"z":0.5},{"c":52,"r":36,"z":0.5},{"c":64,"r":36,"z":0.5},{"c":65,"r":36,"z":1},
{"c":1,"r":37,"z":0.3},{"c":2,"r":37,"z":0.1},{"c":6,"r":37,"z":0.3},{"c":14,"r":37,"z":0.2},{"c":15,"r":37,"z":0.5},{"c":2,"r":38,"z":0.3},{"c":6,"r":38,"z":0.7},{"c":15,"r":38,"z":0.7},{"c":33,"r":38,"z":0.5},
{"c":1,"r":39,"z":1.3},{"c":2,"r":39,"z":1.3},{"c":3,"r":39,"z":2},{"c":5,"r":39,"z":0.4},{"c":6,"r":39,"z":0.4},{"c":12,"r":39,"z":0.6},{"c":13,"r":39,"z":0.4},{"c":14,"r":39,"z":0.8},{"c":15,"r":39,"z":0.4},{"c":16,"r":39,"z":1.1},{"c":24,"r":39,"z":0.8},{"c":36,"r":39,"z":0.4},{"c":53,"r":39,"z":0.3},{"c":64,"r":39,"z":0.5},
{"c":3,"r":40,"z":1.1},{"c":24,"r":40,"z":0.3},{"c":64,"r":40,"z":0.2},{"c":3,"r":41,"z":0.6},{"c":11,"r":41,"z":0.3},{"c":15,"r":41,"z":0.5},{"c":33,"r":41,"z":1.8},{"c":2,"r":42,"z":0.9},{"c":3,"r":42,"z":0.6},{"c":13,"r":42,"z":0.5},{"c":15,"r":42,"z":0.5},{"c":16,"r":42,"z":0.4},{"c":30,"r":42,"z":0.4},{"c":36,"r":42,"z":0.3},{"c":37,"r":42,"z":0.3},{"c":50,"r":42,"z":0.8},
{"c":1,"r":43,"z":0.2},{"c":3,"r":43,"z":0.7},{"c":13,"r":43,"z":0.3},{"c":15,"r":43,"z":0.5},{"c":16,"r":43,"z":0.5},{"c":18,"r":43,"z":0.7},{"c":26,"r":43,"z":0.7},{"c":64,"r":43,"z":0.3},{"c":65,"r":43,"z":0.3},{"c":1,"r":44,"z":0.2},{"c":13,"r":44,"z":0.1},{"c":1,"r":45,"z":0.2},{"c":21,"r":45,"z":0.2},{"c":34,"r":45,"z":0.5},{"c":36,"r":45,"z":0.3},{"c":40,"r":46,"z":0.1},
{"c":1,"r":47,"z":0.5},{"c":2,"r":47,"z":0.5},{"c":3,"r":47,"z":1.4},{"c":4,"r":47,"z":0.7},{"c":5,"r":47,"z":0.7},{"c":6,"r":47,"z":0.3},{"c":7,"r":47,"z":2.2},{"c":10,"r":47,"z":0.5},{"c":11,"r":47,"z":0.2},{"c":13,"r":47,"z":1},{"c":14,"r":47,"z":1},{"c":15,"r":47,"z":1},{"c":16,"r":47,"z":1},{"c":17,"r":47,"z":1.7},{"c":19,"r":47,"z":0.7},{"c":20,"r":47,"z":0.7},{"c":21,"r":47,"z":0.7},{"c":22,"r":47,"z":0.7},{"c":23,"r":47,"z":0.7},{"c":24,"r":47,"z":0.7},{"c":25,"r":47,"z":0.7},{"c":26,"r":47,"z":0.7},{"c":28,"r":47,"z":0.5},{"c":29,"r":47,"z":0.8},{"c":30,"r":47,"z":2.2},{"c":31,"r":47,"z":0.3},{"c":33,"r":47,"z":2.5},{"c":34,"r":47,"z":1},{"c":35,"r":47,"z":0.8},{"c":36,"r":47,"z":0.8},{"c":37,"r":47,"z":2.5},{"c":45,"r":47,"z":0.6},{"c":49,"r":47,"z":0.9},{"c":50,"r":47,"z":0.3},{"c":61,"r":47,"z":0.7},{"c":62,"r":47,"z":0.4},{"c":63,"r":47,"z":0.3},{"c":64,"r":47,"z":1.3},{"c":65,"r":47,"z":1.2},
{"c":17,"r":48,"z":1.3},{"c":28,"r":48,"z":0.6},{"c":30,"r":49,"z":0.8},
{"c":2,"r":50,"z":1},{"c":3,"r":50,"z":1.9},{"c":5,"r":50,"z":0.5},{"c":8,"r":50,"z":0.4},{"c":13,"r":50,"z":0.5},{"c":14,"r":50,"z":0.5},{"c":15,"r":50,"z":0.8},{"c":16,"r":50,"z":1.1},{"c":17,"r":50,"z":1.6},{"c":18,"r":50,"z":2.1},{"c":19,"r":50,"z":0.3},{"c":20,"r":50,"z":0.5},{"c":22,"r":50,"z":0.5},{"c":23,"r":50,"z":0.5},{"c":24,"r":50,"z":0.4},{"c":25,"r":50,"z":0.3},{"c":28,"r":50,"z":2},{"c":29,"r":50,"z":0.8},{"c":30,"r":50,"z":0.4},{"c":31,"r":50,"z":1.5},{"c":33,"r":50,"z":3},{"c":34,"r":50,"z":2.5},{"c":35,"r":50,"z":0.3},{"c":36,"r":50,"z":0.3},{"c":37,"r":50,"z":2},{"c":46,"r":50,"z":0.5},{"c":50,"r":50,"z":1.2},{"c":53,"r":50,"z":0.3},{"c":54,"r":50,"z":0.9},{"c":55,"r":50,"z":0.9},{"c":61,"r":50,"z":0.3},{"c":62,"r":50,"z":0.3},{"c":64,"r":50,"z":1.5},{"c":66,"r":50,"z":1.1},
{"c":2,"r":51,"z":0.8},{"c":5,"r":51,"z":0.3},{"c":7,"r":51,"z":0.9},{"c":11,"r":51,"z":0.4},{"c":14,"r":51,"z":0.3},{"c":15,"r":51,"z":0.7},{"c":16,"r":51,"z":1},{"c":17,"r":51,"z":1},{"c":18,"r":51,"z":0.5},{"c":19,"r":51,"z":0.4},{"c":20,"r":51,"z":0.5},{"c":21,"r":51,"z":0.5},{"c":22,"r":51,"z":0.6},{"c":23,"r":51,"z":0.5},{"c":24,"r":51,"z":0.4},{"c":28,"r":51,"z":0.5},{"c":29,"r":51,"z":0.8},{"c":30,"r":51,"z":2.4},{"c":31,"r":51,"z":2.2},{"c":32,"r":51,"z":0.3},{"c":34,"r":51,"z":2.5},{"c":35,"r":51,"z":0.8},{"c":36,"r":51,"z":1},{"c":37,"r":51,"z":1},{"c":46,"r":51,"z":0.5},{"c":53,"r":51,"z":0.4},{"c":64,"r":51,"z":0.3},
{"c":18,"r":52,"z":0.3},{"c":25,"r":52,"z":1.8},{"c":33,"r":52,"z":1},{"c":44,"r":52,"z":0.5},{"c":1,"r":53,"z":0.2},{"c":2,"r":53,"z":0.2},{"c":4,"r":53,"z":0.5},{"c":5,"r":53,"z":0.5},{"c":7,"r":53,"z":0.6},{"c":8,"r":53,"z":0.3},{"c":11,"r":53,"z":0.3},{"c":16,"r":53,"z":0.3},{"c":17,"r":53,"z":2.1},{"c":18,"r":53,"z":1.6},{"c":20,"r":53,"z":0.9},{"c":26,"r":53,"z":0.3},{"c":32,"r":53,"z":0.5},{"c":33,"r":53,"z":1.7},{"c":37,"r":53,"z":1.3},{"c":50,"r":53,"z":0.9},{"c":64,"r":53,"z":0.3},
{"c":3,"r":54,"z":0.2},{"c":17,"r":54,"z":1.3},{"c":18,"r":54,"z":1.1},{"c":24,"r":54,"z":0.5},{"c":29,"r":54,"z":0.2},{"c":32,"r":54,"z":0.5},{"c":1,"r":55,"z":0.2},{"c":7,"r":55,"z":1.1},{"c":13,"r":55,"z":0.3},{"c":20,"r":55,"z":0.3},{"c":37,"r":55,"z":0.8},{"c":43,"r":55,"z":0.6},{"c":58,"r":55,"z":0.2},{"c":33,"r":56,"z":0.6},{"c":43,"r":56,"z":0.2},{"c":44,"r":56,"z":0.2},{"c":56,"r":56,"z":0.3},
{"c":1,"r":57,"z":0.7},{"c":5,"r":57,"z":0.3},{"c":13,"r":57,"z":0.6},{"c":33,"r":57,"z":0.5},{"c":49,"r":57,"z":0.4},{"c":1,"r":58,"z":0.8},{"c":5,"r":58,"z":0.7},
{"c":1,"r":59,"z":3},{"c":8,"r":59,"z":1.2},{"c":10,"r":59,"z":2.7},{"c":25,"r":59,"z":0.3},{"c":34,"r":59,"z":1.4},{"c":35,"r":59,"z":0.3},{"c":36,"r":59,"z":0.3},{"c":2,"r":60,"z":0.2},{"c":7,"r":60,"z":0.3},{"c":19,"r":60,"z":0.2},{"c":23,"r":60,"z":0.3},{"c":25,"r":60,"z":0.7},{"c":34,"r":60,"z":2.2},{"c":35,"r":60,"z":1.2},{"c":36,"r":60,"z":0.9},{"c":44,"r":60,"z":0.2},{"c":45,"r":60,"z":0.2},{"c":35,"r":61,"z":2.5},{"c":51,"r":61,"z":0.7},
{"c":2,"r":62,"z":0.6},{"c":13,"r":62,"z":0.2},{"c":33,"r":62,"z":0.4},{"c":34,"r":62,"z":0.4},{"c":36,"r":62,"z":0.3},{"c":37,"r":62,"z":0.3},
{"c":2,"r":63,"z":2.7},{"c":3,"r":63,"z":0.2},{"c":4,"r":63,"z":2.2},{"c":5,"r":63,"z":1.3},{"c":6,"r":63,"z":1.2},{"c":7,"r":63,"z":1.1},{"c":8,"r":63,"z":0.2},{"c":10,"r":63,"z":0.3},{"c":11,"r":63,"z":0.2},{"c":12,"r":63,"z":1},{"c":13,"r":63,"z":0.6},{"c":14,"r":63,"z":1.1},{"c":16,"r":63,"z":0.3},{"c":19,"r":63,"z":0.2},{"c":20,"r":63,"z":0.2},{"c":21,"r":63,"z":0.2},{"c":22,"r":63,"z":0.7},{"c":23,"r":63,"z":0.7},{"c":25,"r":63,"z":0.6},{"c":29,"r":63,"z":0.4},{"c":33,"r":63,"z":1.8},{"c":34,"r":63,"z":2.2},{"c":36,"r":63,"z":1.2},{"c":37,"r":63,"z":1.6},{"c":43,"r":63,"z":0.3},{"c":44,"r":63,"z":0.3},{"c":45,"r":63,"z":0.4},{"c":46,"r":63,"z":0.3},{"c":50,"r":63,"z":0.4},{"c":51,"r":63,"z":0.4},{"c":52,"r":63,"z":0.9},{"c":53,"r":63,"z":0.3},{"c":56,"r":63,"z":0.3},{"c":62,"r":63,"z":0.4},{"c":64,"r":63,"z":1.5},{"c":65,"r":63,"z":1},{"c":66,"r":63,"z":0.5},
{"c":6,"r":64,"z":0.3},{"c":4,"r":65,"z":1},{"c":5,"r":65,"z":0.3},{"c":10,"r":65,"z":0.9},{"c":17,"r":65,"z":0.3},{"c":29,"r":65,"z":0.4},{"c":30,"r":65,"z":0.5},{"c":32,"r":65,"z":0.3},{"c":1,"r":66,"z":0.8},{"c":17,"r":66,"z":0.2},{"c":56,"r":66,"z":0.2},{"c":1,"r":67,"z":2.1},{"c":8,"r":67,"z":0.3},{"c":33,"r":67,"z":2.8},{"c":56,"r":67,"z":0.2},
{"c":1,"r":68,"z":1.2},{"c":2,"r":68,"z":0.9},{"c":3,"r":68,"z":0.9},{"c":4,"r":68,"z":0.9},{"c":7,"r":68,"z":0.5},{"c":8,"r":68,"z":0.5},{"c":9,"r":68,"z":0.5},{"c":11,"r":68,"z":0.5},{"c":25,"r":68,"z":0.4},{"c":36,"r":68,"z":0.3},{"c":37,"r":68,"z":0.3},{"c":52,"r":68,"z":0.5},{"c":66,"r":68,"z":0.4},{"c":1,"r":69,"z":0.2},{"c":1,"r":70,"z":0.1},{"c":33,"r":70,"z":0.2},{"c":64,"r":70,"z":0.4},
{"c":2,"r":71,"z":0.9},{"c":29,"r":71,"z":0.5},{"c":31,"r":71,"z":2},{"c":34,"r":71,"z":0.5},{"c":36,"r":71,"z":1},{"c":3,"r":72,"z":1.2},{"c":5,"r":72,"z":0.3},{"c":17,"r":72,"z":0.6},{"c":22,"r":72,"z":0.3},{"c":25,"r":72,"z":0.3},{"c":29,"r":72,"z":0.7},{"c":61,"r":72,"z":0.4},{"c":64,"r":72,"z":0.4},{"c":3,"r":73,"z":1.1},{"c":23,"r":73,"z":0.6},{"c":28,"r":73,"z":0.3},{"c":49,"r":73,"z":0.3},{"c":53,"r":73,"z":0.5},{"c":64,"r":73,"z":0.5},{"c":66,"r":73,"z":0.6}
]},
"encoding":{"x":{"field":"x0","type":"quantitative","title":null,"scale":{"type":"linear","domain":[-4.68,37,38,66,96.65],"range":[0,285,287,477,685],"nice":false,"zero":false}},"x2":{"field":"x1"},"y":{"field":"y0","type":"quantitative","title":null,"scale":{"type":"linear","domain":[-10.5,78.455],"range":[0,572],"nice":false,"zero":false}},"y2":{"field":"y1"}},
"layer":[
{"data":{"name":"samples"},"transform":[{"calculate":"datum.c-1","as":"x0"},{"calculate":"datum.c+0.04","as":"x1"},{"calculate":"0","as":"y0"},{"calculate":"74","as":"y1"}],"mark":"rect","encoding":{"color":{"field":"base","type":"quantitative","scale":{"scheme":"inferno","domain":[-1,3]},"legend":null}}},
{"data":{"name":"cells"},"transform":[{"calculate":"datum.c-1","as":"x0"},{"calculate":"datum.c+0.02","as":"x1"},{"calculate":"datum.r-1","as":"y0"},{"calculate":"datum.r+0.02","as":"y1"}],"mark":"rect","encoding":{"color":{"field":"z","type":"quantitative","scale":{"scheme":"inferno","domain":[-1,3]},"legend":{"title":"z-score","orient":"none","legendX":548,"legendY":295,"gradientLength":45,"gradientThickness":8,"values":[-1,0,1,2,3],"labelOffset":2}}}},
{"data":{"name":"samples"},"transform":[{"calculate":"datum.c-1","as":"x0"},{"calculate":"datum.c+0.04","as":"x1"},{"calculate":"-4.9","as":"y0"},{"calculate":"-3.6","as":"y1"}],"mark":"rect","encoding":{"color":{"field":"cluster","type":"nominal","scale":{"domain":["A-1","A-2","A-3","B-4","B-5"],"range":["#2b83ba","#abdda4","#ffffbf","#fdae61","#d7191c"]},"legend":{"title":"clusters","orient":"none","legendX":625,"legendY":212,"symbolType":"square","symbolSize":64,"clipHeight":8,"rowPadding":0.7,"labelOffset":2,"symbolStrokeColor":"#999","symbolStrokeWidth":0.5}}}},
{"data":{"name":"samples"},"transform":[{"calculate":"datum.c-1","as":"x0"},{"calculate":"datum.c+0.04","as":"x1"},{"calculate":"-3.29","as":"y0"},{"calculate":"-1.99","as":"y1"}],"mark":"rect","encoding":{"color":{"field":"dmm","type":"nominal","scale":{"domain":["1","2"],"range":["#ffa500","#008b8b"]},"legend":{"title":"DMM group","orient":"none","legendX":625,"legendY":269,"symbolType":"square","symbolSize":64,"clipHeight":8,"rowPadding":0.7,"labelOffset":2,"symbolStrokeColor":"#999","symbolStrokeWidth":0.5}}}},
{"data":{"name":"samples"},"transform":[{"calculate":"datum.c-1","as":"x0"},{"calculate":"datum.c+0.04","as":"x1"},{"calculate":"-1.75","as":"y0"},{"calculate":"-0.39","as":"y1"}],"mark":"rect","encoding":{"color":{"field":"description","type":"nominal","scale":{"domain":["Control","EoE baseline","EoE post-FED","EoE post-PPI","EoE post-STC"],"range":["#d2b48c","#cd0000","#483d8b","#43cd80","#009acd"]},"legend":{"title":"description","orient":"none","legendX":625,"legendY":299,"symbolType":"square","symbolSize":64,"clipHeight":8,"rowPadding":0.7,"labelOffset":2,"symbolStrokeColor":"#999","symbolStrokeWidth":0.5}}}},
{"data":{"name":"rows"},"transform":[{"calculate":"-1.27","as":"x0"},{"calculate":"-0.29","as":"x1"},{"calculate":"datum.r-1","as":"y0"},{"calculate":"datum.r+0.03","as":"y1"}],"mark":"rect","encoding":{"color":{"field":"family","type":"nominal","scale":{"domain":["Streptococcaceae","Family XI","Veillonellaceae","Pasteurellaceae","Prevotellaceae","Fusobacteriaceae","various","unknown"],"range":["#0000ff","#008000","#ff0000","#ffff00","#ffa500","#d2b48c","#e5e5e5","#a9a9a9"]},"legend":{"title":"Family","orient":"none","legendX":548,"legendY":212,"symbolType":"square","symbolSize":64,"clipHeight":8,"rowPadding":0.7,"labelOffset":2,"symbolStrokeColor":"#999","symbolStrokeWidth":0.5}}}},
{"data":{"values":[{"arm":"A","i":0},{"arm":"A","i":1},{"arm":"A","i":2},{"arm":"A","i":3},{"arm":"B","i":0},{"arm":"B","i":1},{"arm":"B","i":2},{"arm":"B","i":3},{"arm":"F","i":3}]},"transform":[{"calculate":"datum.arm==='A'?0:datum.arm==='B'?38:-1.27","as":"x0"},{"calculate":"datum.arm==='A'?37:datum.arm==='B'?66:-0.29","as":"x1"},{"calculate":"[-4.9,-3.29,-1.75,0][datum.i]","as":"y0"},{"calculate":"[-3.6,-1.99,-0.39,74][datum.i]","as":"y1"}],"mark":{"type":"rect","fill":"transparent","stroke":"#8a8a8a","strokeWidth":0.6},"encoding":{}},
{"data":{"name":"treeTop"},"transform":[{"calculate":"datum.a","as":"x0"},{"calculate":"datum.b","as":"x1"},{"calculate":"datum.h","as":"y0"},{"calculate":"datum.h","as":"y1"}],"mark":{"type":"rule","stroke":"#555","strokeWidth":0.8},"encoding":{}},
{"data":{"name":"treeTop"},"transform":[{"calculate":"datum.a","as":"x0"},{"calculate":"datum.a","as":"x1"},{"calculate":"datum.h","as":"y0"},{"calculate":"datum.p","as":"y1"}],"mark":{"type":"rule","stroke":"#555","strokeWidth":0.8},"encoding":{}},
{"data":{"name":"treeTop"},"transform":[{"calculate":"datum.b","as":"x0"},{"calculate":"datum.b","as":"x1"},{"calculate":"datum.h","as":"y0"},{"calculate":"datum.q","as":"y1"}],"mark":{"type":"rule","stroke":"#555","strokeWidth":0.8},"encoding":{}},
{"data":{"name":"treeLeft"},"transform":[{"calculate":"datum.h","as":"x0"},{"calculate":"datum.h","as":"x1"},{"calculate":"datum.a","as":"y0"},{"calculate":"datum.b","as":"y1"}],"mark":{"type":"rule","stroke":"#555","strokeWidth":0.8},"encoding":{}},
{"data":{"name":"treeLeft"},"transform":[{"calculate":"datum.h","as":"x0"},{"calculate":"datum.p","as":"x1"},{"calculate":"datum.a","as":"y0"},{"calculate":"datum.a","as":"y1"}],"mark":{"type":"rule","stroke":"#555","strokeWidth":0.8},"encoding":{}},
{"data":{"name":"treeLeft"},"transform":[{"calculate":"datum.h","as":"x0"},{"calculate":"datum.q","as":"x1"},{"calculate":"datum.b","as":"y0"},{"calculate":"datum.b","as":"y1"}],"mark":{"type":"rule","stroke":"#555","strokeWidth":0.8},"encoding":{}},
{"data":{"name":"rows"},"transform":[{"calculate":"66.37","as":"x0"},{"calculate":"datum.r-0.5","as":"y0"}],"mark":{"type":"text","align":"left","baseline":"middle","fontSize":6.1,"color":"#222"},"encoding":{"x2":null,"y2":null,"text":{"field":"taxon"}}},
{"data":{"name":"samples"},"transform":[{"calculate":"datum.c-0.5","as":"x0"},{"calculate":"74.3","as":"y0"}],"mark":{"type":"text","align":"right","baseline":"middle","angle":270,"fontSize":4.4,"color":"#333"},"encoding":{"x2":null,"y2":null,"text":{"field":"id"}}},
{"data":{"values":[{"t":"clusters","i":0},{"t":"DMM group","i":1},{"t":"description","i":2}]},"transform":[{"calculate":"66.4","as":"x0"},{"calculate":"[-4.17,-2.6,-1][datum.i]","as":"y0"}],"mark":{"type":"text","align":"left","baseline":"middle","fontSize":8.5,"color":"#111"},"encoding":{"x2":null,"y2":null,"text":{"field":"t"}}},
{"data":{"values":[{"t":"Arm A","i":0},{"t":"Arm B","i":1}]},"transform":[{"calculate":"[18.4,51.96][datum.i]","as":"x0"},{"calculate":"-9.88","as":"y0"}],"mark":{"type":"text","align":"center","baseline":"middle","fontSize":9.5,"color":"#111"},"encoding":{"x2":null,"y2":null,"text":{"field":"t"}}},
{"data":{"values":[{"t":"Family"}]},"transform":[{"calculate":"-0.73","as":"x0"},{"calculate":"74.36","as":"y0"}],"mark":{"type":"text","align":"right","baseline":"middle","angle":270,"fontSize":8.5,"color":"#111"},"encoding":{"x2":null,"y2":null,"text":{"field":"t"}}}
],
"resolve":{"scale":{"color":"independent"}}}
